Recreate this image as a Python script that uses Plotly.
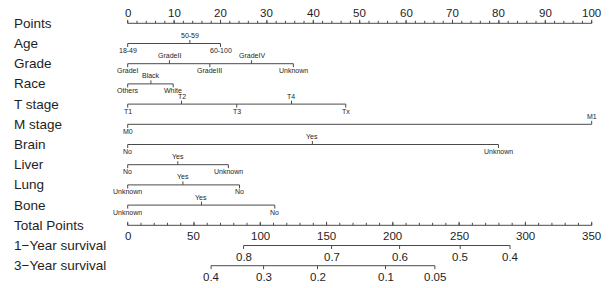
import plotly.graph_objects as go

# ---- data (points scale 0-100) ----
row_names = ["Points", "Age", "Grade", "Race", "T stage", "M stage", "Brain", "Liver",
             "Lung", "Bone", "Total Points", "1\u2212Year survival", "3\u2212Year survival"]

age_labels = ["18-49", "50-59", "60-100"]
age_points = [0, 13.4, 20.0]
grade_labels = ["GradeI", "GradeII", "GradeIII", "GradeIV", "Unknown"]
grade_points = [0, 9.0, 17.7, 26.7, 35.7]
race_labels = ["Others", "Black", "White"]
race_points = [0, 5.0, 9.8]
t_labels = ["T1", "T2", "T3", "T4", "Tx"]
t_points = [0, 11.6, 23.5, 35.3, 47.0]
m_labels = ["M0", "M1"]
m_points = [0, 100.0]
brain_labels = ["No", "Yes", "Unknown"]
brain_points = [0, 39.8, 79.9]
liver_labels = ["No", "Yes", "Unknown"]
liver_points = [0, 10.8, 21.7]
lung_labels = ["Unknown", "Yes", "No"]
lung_points = [0, 11.9, 24.1]
bone_labels = ["Unknown", "Yes", "No"]
bone_points = [0, 15.9, 31.7]

points_ticks = list(range(0, 101, 10))
points_minor = list(range(0, 101, 2))
total_ticks = list(range(0, 351, 50))
total_minor = list(range(0, 351, 10))
total_max = 350

surv1_labels = ["0.8", "0.7", "0.6", "0.5", "0.4"]
surv1_total = [87.4, 153.8, 205.1, 250.8, 288.4]
surv3_labels = ["0.4", "0.3", "0.2", "0.1", "0.05"]
surv3_total = [62.9, 102.5, 143.2, 194.5, 231.7]

# ---- layout geometry (pixels) ----
W, H = 611, 288
X0, X100 = 127.7, 591.7
PPP = (X100 - X0) / 100.0
ROW0, DY = 23.3, 20.2
ROWS = [ROW0 + DY * i for i in range(len(row_names))]
LINE_C = "#4a4a4a"
TXT_C = "#1e1e1e"
FONT = "Liberation Sans, Arial, Helvetica, sans-serif"
TK = 3.5

fig = go.Figure()
lx, ly = [], []
ann = []


def seg(x0, y0, x1, y1):
    lx.extend([x0, x1, None])
    ly.extend([y0, y1, None])


def text(x, y, s, size, xanchor="center"):
    ann.append(dict(x=x, y=y, xref="x", yref="y", text=s, showarrow=False,
                    xanchor=xanchor, yanchor="middle",
                    font=dict(size=size, color=TXT_C, family=FONT)))


# row names
for name, y in zip(row_names, ROWS):
    text((12 - X0) / PPP, y, name, 13.5, "left")

# points axis
yp = ROWS[0]
seg(0, yp, 100, yp)
for v in points_minor:
    seg(v, yp, v, yp - 2.5)
for v in points_ticks:
    seg(v, yp, v, yp - TK)
    text(v, yp - 10, str(v), 11.5)

# categorical rows
cats = [(age_labels, age_points), (grade_labels, grade_points), (race_labels, race_points),
        (t_labels, t_points), (m_labels, m_points), (brain_labels, brain_points),
        (liver_labels, liver_points), (lung_labels, lung_points), (bone_labels, bone_points)]
for i, (labs, pts) in enumerate(cats):
    y = ROWS[i + 1]
    seg(min(pts), y, max(pts), y)
    for j, (lab, p) in enumerate(zip(labs, pts)):
        above = (j % 2 == 1)
        if above:
            seg(p, y, p, y - TK)
            text(p, y - 8, lab, 7)
        else:
            seg(p, y, p, y + TK)
            text(p, y + 7, lab, 7)

# total points axis
sc = 100.0 / total_max
yt = ROWS[10]
seg(0, yt, total_max * sc, yt)
for v in total_minor:
    seg(v * sc, yt, v * sc, yt - 2.5)
for v in total_ticks:
    seg(v * sc, yt, v * sc, yt - TK)
    text(v * sc, yt + 10.5, str(v), 11.5)

# survival axes
for k, (labs, tot) in enumerate([(surv1_labels, surv1_total), (surv3_labels, surv3_total)]):
    y = ROWS[11 + k]
    seg(min(tot) * sc, y, max(tot) * sc, y)
    for lab, t in zip(labs, tot):
        seg(t * sc, y, t * sc, y + TK)
        text(t * sc, y + 11, lab, 11.5)

fig.add_trace(go.Scatter(x=lx, y=ly, mode="lines", line=dict(color=LINE_C, width=1),
                         hoverinfo="skip", showlegend=False))

fig.update_layout(
    width=W, height=H, margin=dict(l=0, r=0, t=0, b=0),
    paper_bgcolor="white", plot_bgcolor="white",
    xaxis=dict(range=[-X0 / PPP, (W - X0) / PPP], visible=False, fixedrange=True),
    yaxis=dict(range=[H, 0], visible=False, fixedrange=True),
    annotations=ann, showlegend=False,
)
fig.write_html("out.html", config={"displayModeBar": False},
               post_script="document.body.style.margin='0px';document.body.style.overflow='hidden';")
